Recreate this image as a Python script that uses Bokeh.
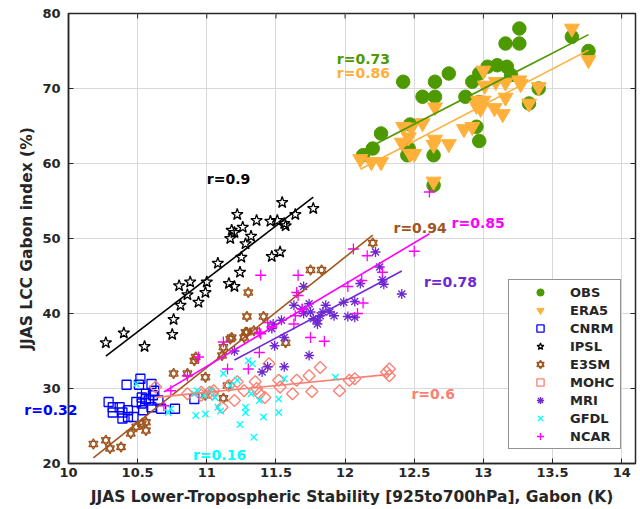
import numpy as np
from bokeh.plotting import figure
from bokeh.models import Range1d, Label, Legend, LegendItem, FixedTicker, LinearAxis
from bokeh.embed import file_html
from bokeh.resources import INLINE

# ---------------- data ----------------
xticks = [10, 10.5, 11, 11.5, 12, 12.5, 13, 13.5, 14]
yticks = [20, 30, 40, 50, 60, 70, 80]
x_lo, x_hi = 10, 14.1
y_lo, y_hi = 20, 80

obs_x = [13.26, 13.16, 13.26, 13.64, 13.76, 12.42, 12.65, 12.75, 12.56, 12.65, 12.87, 12.92, 12.97,
         13.03, 13.10, 13.17, 13.20, 12.97, 13.33, 13.40, 12.95, 12.97, 12.26, 12.20, 12.13, 12.47,
         12.46, 12.45, 12.64, 12.64]
obs_y = [78.0, 76.0, 76.0, 76.9, 75.0, 70.9, 70.9, 72.0, 68.9, 68.9, 68.9, 70.9, 72.0,
         72.9, 73.1, 72.9, 71.8, 68.2, 68.0, 70.0, 64.9, 63.0, 64.0, 62.0, 61.1, 65.2,
         62.0, 61.1, 61.1, 57.1]

era5_x = [13.64, 13.76, 13.00, 13.09, 13.16, 13.26, 13.27, 13.40, 13.01, 13.16, 13.33, 12.96, 13.00,
          12.95, 12.98, 13.08, 13.14, 12.65, 12.86, 12.92, 12.75, 12.65, 12.64, 12.42, 12.48, 12.56,
          12.41, 12.46, 12.47, 12.50, 12.11, 12.19, 12.26, 12.64]
era5_y = [78.0, 73.8, 72.4, 70.9, 70.8, 71.1, 70.6, 70.2, 70.4, 68.8, 68.0, 68.4, 68.4,
          67.7, 67.3, 67.4, 66.6, 67.5, 64.6, 64.9, 62.6, 63.2, 62.5, 64.9, 64.8, 65.4,
          62.8, 63.5, 61.3, 61.3, 60.6, 60.2, 60.2, 57.6]

cnrm_x = [10.42, 10.52, 10.51, 10.60, 10.29, 10.32, 10.32, 10.37, 10.39, 10.39, 10.43, 10.47, 10.43,
          10.49, 10.53, 10.54, 10.53, 10.56, 10.56, 10.58, 10.60, 10.61, 10.62, 10.65, 10.67, 10.77,
          10.91]
cnrm_y = [30.5, 31.3, 30.5, 30.6, 28.2, 27.5, 26.8, 27.5, 26.8, 26.0, 26.2, 26.2, 27.1,
          28.2, 28.0, 27.1, 28.8, 28.6, 29.3, 28.4, 27.5, 29.1, 29.7, 28.4, 27.3, 27.3,
          28.6]

ipsl_x = [11.545, 11.77, 11.22, 11.36, 11.46, 11.51, 11.57, 11.56, 11.64, 11.26, 11.18, 11.20, 11.17,
          11.32, 11.28, 11.25, 11.47, 11.53, 11.08, 11.24, 11.00, 10.99, 11.16, 11.20, 10.80, 10.88,
          10.86, 10.81, 10.94, 10.76, 10.75, 10.40, 10.27, 10.55]
ipsl_y = [54.8, 54.0, 53.2, 52.4, 52.3, 52.4, 51.7, 52.0, 53.2, 51.5, 51.1, 50.8, 50.0,
          50.3, 49.3, 47.5, 47.6, 48.2, 46.7, 45.5, 44.2, 42.8, 44.0, 43.6, 43.7, 44.2,
          42.5, 41.1, 41.5, 39.2, 37.2, 37.4, 36.1, 35.6]

e3sm_x = [10.18, 10.27, 10.30, 10.38, 10.45, 10.49, 10.53, 10.56, 10.56, 10.76, 10.86, 10.91, 10.92,
          10.99, 10.99, 11.12, 11.15, 11.12, 11.11, 11.17, 11.18, 11.27, 11.29, 11.34, 11.28, 11.30,
          11.29, 11.41, 11.57, 11.75, 11.83, 12.20]
e3sm_y = [22.6, 23.1, 22.0, 22.2, 24.0, 24.9, 25.3, 25.5, 24.4, 32.0, 32.0, 33.7, 34.2,
          31.5, 29.1, 28.7, 30.4, 35.5, 34.4, 36.6, 36.8, 36.8, 37.5, 37.7, 37.5, 42.8,
          39.6, 39.6, 36.1, 45.8, 45.8, 49.4]

mohc_x = [12.32, 12.32, 12.30, 11.82, 12.03, 12.07, 11.96, 11.74, 11.65, 11.76, 11.62, 11.52, 11.53,
          11.45, 11.42, 11.35, 11.36, 11.38, 11.27, 11.22, 11.20, 11.16, 11.11, 11.04, 10.96, 10.63,
          10.86, 10.96, 11.02, 11.05]
mohc_y = [32.6, 31.7, 32.2, 32.8, 31.1, 31.3, 29.7, 31.7, 31.1, 29.6, 29.3, 31.1, 30.2,
          33.3, 28.8, 30.9, 30.0, 29.3, 29.7, 30.9, 28.4, 30.4, 27.5, 29.3, 29.5, 30.2,
          29.3, 29.1, 29.5, 29.7]

mri_x = [12.22, 12.25, 12.27, 12.28, 12.41, 12.11, 11.99, 12.07, 12.02, 12.07, 11.86, 11.84, 11.89,
         11.92, 11.82, 11.80, 11.77, 11.80, 11.75, 11.70, 11.74, 11.70, 11.63, 11.69, 11.54, 11.48,
         11.47, 11.49, 11.56, 11.74, 11.56, 11.44, 11.40, 11.20]
mri_y = [48.2, 46.2, 44.5, 43.9, 42.6, 44.0, 41.5, 41.6, 39.6, 39.5, 41.1, 40.2, 40.2,
         39.7, 39.7, 39.1, 39.3, 38.6, 40.2, 40.0, 41.3, 43.6, 41.1, 40.6, 39.1, 38.6,
         38.0, 35.7, 36.8, 34.4, 32.9, 32.9, 32.2, 35.0]

gfdl_x = [11.34, 11.24, 11.41, 11.52, 10.92, 10.99, 11.08, 11.28, 11.28, 11.38, 11.32, 11.52, 11.56,
          11.93, 11.30, 11.33, 11.22, 11.12, 11.17, 11.03, 11.06, 10.98, 10.91, 10.49, 10.72, 10.74,
          10.93, 11.10]
gfdl_y = [23.5, 25.2, 26.2, 26.8, 26.4, 26.6, 27.5, 26.8, 27.5, 28.4, 29.3, 28.6, 31.3,
          31.5, 33.7, 33.3, 31.1, 32.0, 30.4, 29.7, 28.8, 29.1, 29.3, 30.6, 26.8, 27.3,
          29.7, 27.0]

ncar_x = [12.50, 12.06, 12.16, 12.27, 12.12, 12.02, 12.13, 12.09, 11.66, 11.39, 11.65, 11.66, 11.69,
          11.64, 11.63, 11.75, 11.85, 11.44, 11.47, 11.38, 11.38, 11.30, 11.15, 11.12, 10.94, 10.86,
          10.74, 10.69, 11.39, 12.61]
ncar_y = [48.3, 48.6, 47.7, 45.5, 44.4, 43.6, 41.4, 40.0, 45.1, 45.1, 42.8, 42.4, 40.6,
          39.7, 38.6, 36.8, 36.3, 38.8, 38.2, 37.5, 34.8, 32.6, 32.6, 36.2, 34.2, 31.7,
          29.7, 27.7, 37.3, 56.2]

r_texts = ["r=0.73", "r=0.86", "r=0.32", "r=0.9", "r=0.94", "r=0.6", "r=0.78", "r=0.16", "r=0.85"]
r_x = [11.94, 11.94, 9.70, 11.0, 12.35, 12.48, 12.57, 10.90, 12.77]
r_y = [73.9, 72.1, 27.1, 58.0, 51.4, 29.3, 44.2, 21.2, 52.1]

xlabel = "JJAS Lower-Tropospheric Stability [925to700hPa], Gabon (K)"
ylabel = "JJAS LCC Gabon index (%)"

# ---------------- style ----------------
FONT = "DejaVu Sans"
AX = "#262626"
C = {
    "OBS": "#4d9900", "ERA5": "#ffb03b", "CNRM": "#0000ff", "IPSL": "#000000",
    "E3SM": "#a0541e", "MOHC": "#fa7f72", "MRI": "#6e28d2", "GFDL": "#00ffff", "NCAR": "#ff00ff",
}
r_colors = [C["OBS"], C["ERA5"], C["CNRM"], C["IPSL"], C["E3SM"], C["MOHC"], C["MRI"], C["GFDL"], C["NCAR"]]

p = figure(width=640, height=509, x_range=Range1d(x_lo, x_hi), y_range=Range1d(y_lo, y_hi),
           output_backend="svg", toolbar_location=None,
           min_border_left=68, min_border_right=5, min_border_top=13, min_border_bottom=46)
p.background_fill_color = "white"
p.border_fill_color = "white"
p.outline_line_color = AX
p.outline_line_width = 1.5

for ax in (p.xaxis[0], p.yaxis[0]):
    ax.major_label_text_font = FONT
    ax.major_label_text_font_style = "bold"
    ax.major_label_text_font_size = "13px"
    ax.major_label_text_color = AX
    ax.axis_label_text_font = FONT
    ax.axis_label_text_font_style = "bold"
    ax.axis_label_text_font_size = "15.5px"
    ax.axis_label_text_color = AX
    ax.axis_line_color = AX
    ax.axis_line_width = 1.5
    ax.major_tick_in = 5
    ax.major_tick_out = 0
    ax.major_tick_line_color = AX
    ax.minor_tick_line_color = None

p.xaxis.ticker = FixedTicker(ticks=xticks)
p.yaxis.ticker = FixedTicker(ticks=yticks)
p.xaxis.major_label_overrides = {10: "10", 11: "11", 12: "12", 13: "13", 14: "14"}
p.xaxis.axis_label = xlabel
p.yaxis.axis_label = ylabel
p.xaxis.major_label_standoff = 4
p.yaxis.major_label_standoff = 8
p.xaxis.axis_label_standoff = 8
p.yaxis.axis_label_standoff = 3

p.xgrid.ticker = FixedTicker(ticks=xticks)
p.ygrid.ticker = FixedTicker(ticks=yticks)
p.grid.grid_line_color = "#d9d9d9"
p.grid.grid_line_width = 1

# ---------------- scatter ----------------
lw = 1.3
r_obs = p.scatter(obs_x, obs_y, marker="circle", size=13.5, fill_color=C["OBS"], line_color=C["OBS"])
r_era = p.scatter(era5_x, era5_y, marker="inverted_triangle", size=15, fill_color=C["ERA5"], line_color=C["ERA5"])
r_cnrm = p.scatter(cnrm_x, cnrm_y, marker="square", size=9, fill_color=None, line_color=C["CNRM"], line_width=lw)
r_ipsl = p.scatter(ipsl_x, ipsl_y, marker="star", size=12, fill_color=None, line_color=C["IPSL"], line_width=lw)
r_e1 = p.scatter(e3sm_x, e3sm_y, marker="triangle", size=9, fill_color=None, line_color=C["E3SM"], line_width=lw)
r_e2 = p.scatter(e3sm_x, e3sm_y, marker="inverted_triangle", size=9, fill_color=None, line_color=C["E3SM"], line_width=lw)
r_mohc = p.scatter(mohc_x, mohc_y, marker="square", angle=np.pi / 4, size=8.5, fill_color=None, line_color=C["MOHC"], line_width=lw)
r_mri = p.scatter(mri_x, mri_y, marker="asterisk", size=10, line_color=C["MRI"], line_width=lw)
r_gfdl = p.scatter(gfdl_x, gfdl_y, marker="x", size=9, line_color=C["GFDL"], line_width=lw)
r_ncar = p.scatter(ncar_x, ncar_y, marker="cross", size=11, line_color=C["NCAR"], line_width=lw)

# ---------------- regression lines (fitted from the data) ----------------
def fit_line(xs, ys, color):
    xs = np.asarray(xs); ys = np.asarray(ys)
    k, b = np.polyfit(xs, ys, 1)
    x0, x1 = xs.min(), xs.max()
    p.line([x0, x1], [k * x0 + b, k * x1 + b], line_color=color, line_width=1.6)

fit_line(obs_x, obs_y, C["OBS"])
fit_line(era5_x, era5_y, C["ERA5"])
fit_line(ipsl_x, ipsl_y, C["IPSL"])
fit_line(e3sm_x, e3sm_y, C["E3SM"])
fit_line(mohc_x, mohc_y, C["MOHC"])
fit_line(mri_x, mri_y, C["MRI"])
fit_line(ncar_x, ncar_y, C["NCAR"])

# ---------------- inward ticks on top and right edges (outer half clipped by the frame) ----------
p.scatter([x_hi] * len(yticks), yticks, marker="dash", size=10, line_color=AX, line_width=1)
p.scatter(xticks, [y_hi] * len(xticks), marker="dash", angle=np.pi / 2, size=10, line_color=AX, line_width=1)

# ---------------- r labels ----------------
for t, x, y, c in zip(r_texts, r_x, r_y, r_colors):
    if x < x_lo:
        # text that sits left of the axes box: drawn as the single tick label of an extra
        # left axis (side panels are not clipped to the frame)
        ex = LinearAxis(ticker=FixedTicker(ticks=[y]), major_label_overrides={y: t},
                        major_label_text_color=c, major_label_text_font=FONT,
                        major_label_text_font_style="bold", major_label_text_font_size="14px",
                        major_label_standoff=-62, axis_line_color=None, major_tick_line_color=None,
                        minor_tick_line_color=None, major_tick_in=0, major_tick_out=0)
        p.add_layout(ex, "left")
    else:
        p.add_layout(Label(x=x, y=y, text=t, text_color=c, text_font=FONT, text_font_style="bold",
                           text_font_size="14px", text_baseline="middle", text_align="left"))

# ---------------- legend ----------------
items = [
    LegendItem(label="OBS", renderers=[r_obs]),
    LegendItem(label="ERA5", renderers=[r_era]),
    LegendItem(label="CNRM", renderers=[r_cnrm]),
    LegendItem(label="IPSL", renderers=[r_ipsl]),
    LegendItem(label="E3SM", renderers=[r_e1, r_e2]),
    LegendItem(label="MOHC", renderers=[r_mohc]),
    LegendItem(label="MRI", renderers=[r_mri]),
    LegendItem(label="GFDL", renderers=[r_gfdl]),
    LegendItem(label="NCAR", renderers=[r_ncar]),
]
legend = Legend(items=items, location="bottom_right", margin=14, padding=3, spacing=0,
                label_height=18, glyph_height=18, glyph_width=56, label_standoff=2, label_width=47,
                label_text_font=FONT, label_text_font_style="bold", label_text_font_size="13px",
                label_text_color=AX, border_line_color=AX, border_line_width=1.5,
                background_fill_color="white", background_fill_alpha=1.0)
p.add_layout(legend)

open("out.html", "w").write(file_html(p, INLINE))
